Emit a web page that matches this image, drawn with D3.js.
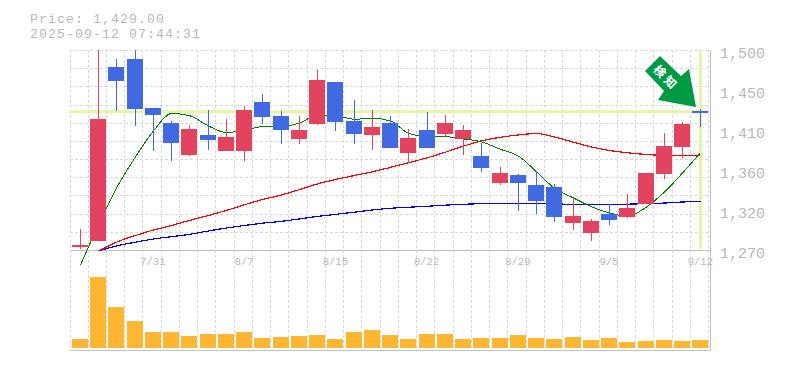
<!DOCTYPE html>
<html>
<head>
<meta charset="utf-8">
<style>
	html, body { margin: 0; padding: 0; background: #fff; }
	svg { display: block; }
	text { font-family: "Liberation Mono", monospace; fill: #b8b8b8; }
</style>
<script src="https://cdn.jsdelivr.net/npm/d3@7"></script>
</head>
<body>
<script>
var dates = ["7/25","7/28","7/29","7/30","7/31","8/1","8/4","8/5","8/6","8/7","8/8","8/12","8/13","8/14","8/15",
	"8/18","8/19","8/20","8/21","8/22","8/25","8/26","8/27","8/28","8/29","9/1","9/2","9/3","9/4","9/5",
	"9/8","9/9","9/10","9/11","9/12"];
var dateTicks = ["7/31","8/7","8/15","8/22","8/29","9/5","9/12"];
var priceTicks = [1500,1454,1408,1362,1316,1270];

var opens  = [1276,1280,1480,1490,1433,1416,1379,1402,1384,1384,1440,1424,1398,1415,1463,1418,1402,1416,1382,1408,1403,1398,1378,1347,1356,1345,1342,1301,1290,1311,1308,1323,1357,1388,1430];
var highs  = [1294,1500,1490,1500,1433,1418,1414,1431,1421,1436,1449,1430,1424,1477,1463,1442,1431,1424,1409,1429,1425,1414,1393,1365,1357,1361,1346,1330,1306,1323,1334,1359,1405,1417,1432];
var lows   = [1271,1280,1430,1413,1384,1372,1378,1385,1384,1372,1415,1392,1392,1414,1407,1392,1385,1387,1370,1387,1400,1379,1360,1345,1315,1311,1302,1293,1280,1299,1307,1323,1352,1376,1411];
var closes = [1276,1421,1464,1432,1425,1393,1409,1396,1400,1431,1423,1408,1408,1465,1417,1403,1411,1387,1399,1387,1416,1408,1364,1359,1347,1326,1308,1309,1303,1304,1318,1359,1390,1415,1429];
var volumes = [9,71,41,27,16,16,12,14,14,16,10,11,12,13,9,16,18,13,9,14,14,9,10,10,13,10,9,11,8,10,6,7,8,7,8];

var maShort = [1252.8,1298.8,1341.3,1377,1406.9,1427,1424.5,1412.6,1405,1408,1411.8,1412,1416,1425,1424.7,1420.3,1421.5,1418.4,1404.2,1400.3,1400.3,1397.7,1394.5,1385.8,1378,1360,1341,1329.8,1319.8,1312.5,1309,1319.5,1336.7,1358.5,1382];
var maMid = [null,1268.9,1279,1286.7,1293,1298.2,1304,1309.7,1315.5,1322,1328,1333.3,1339.5,1346,1351,1355.7,1360,1365,1370.4,1376.1,1382.5,1389.5,1395.5,1399.6,1402.3,1404,1400,1394,1388.5,1384.4,1381.9,1379.8,1378.9,1378.8,1378.9];
var maLong = [null,1268.9,1274.6,1279,1282.7,1285.3,1288,1291.9,1295.3,1298.2,1300.8,1303,1305.7,1308.6,1311,1313.5,1316,1318,1319.2,1320.3,1321.6,1322.6,1323.3,1323.7,1323.7,1323.7,1323,1322.6,1322.6,1322.6,1322.7,1323.4,1324,1325.2,1326];

var lastPrice = 1429;
var w = 785, h = 370;
var left = 70.75, right = 709.5;
var top_ = 50, mid = 250, volBase = 348, bottom = 350;
var barW = 16;

var svg = d3.select("body").append("svg").attr("width", w).attr("height", h);

var x = d3.scaleBand().domain(d3.range(dates.length)).range([left, right]);
var y = d3.scaleLinear().domain([1270, 1500]).range([mid, top_]);
var yVol = d3.scaleLinear().domain([0, d3.max(volumes)]).range([volBase, 277]);
var cx = i => Math.round(x(i) + x.bandwidth() / 2 + 0.1);

// title
svg.append("text").text("Price: 1,429.00").attr("x", 30).attr("y", 23)
	.attr("font-size", "13.2px").attr("letter-spacing", "1.08px");
svg.append("text").text("2025-09-12 07:44:31").attr("x", 30).attr("y", 38)
	.attr("font-size", "13.2px").attr("letter-spacing", "1.08px");

// grid
var gridV = d3.range(dates.length + 1).map(i => Math.max(70, Math.floor(left + i * x.step() - 0.8)) + 0.5);
svg.selectAll("line.gridv").data(gridV).enter().append("line")
	.attr("class", "gridv")
	.attr("x1", d => d).attr("x2", d => d)
	.attr("y1", top_).attr("y2", bottom)
	.attr("stroke", "#d8d8d8").attr("stroke-dasharray", "3,2");

var gridH = d3.range(0, 12).map(i => 1270 + i * 230 / 11);
svg.selectAll("line.gridh").data(gridH).enter().append("line")
	.attr("class", "gridh")
	.attr("x1", 70).attr("x2", right)
	.attr("y1", d => Math.round(y(d)) + 0.5).attr("y2", d => Math.round(y(d)) + 0.5)
	.attr("stroke", "#d8d8d8").attr("stroke-dasharray", "3,2");

// last price cross
var lastX = cx(dates.length - 1);
svg.append("line")
	.attr("x1", 70).attr("x2", lastX + 2)
	.attr("y1", y(lastPrice)).attr("y2", y(lastPrice))
	.attr("stroke", "#e4f6a6").attr("stroke-width", 3);
svg.append("line")
	.attr("x1", lastX + 0.5).attr("x2", lastX + 0.5)
	.attr("y1", top_).attr("y2", mid - 1)
	.attr("stroke", "#e4f6a6").attr("stroke-width", 3);

// axes frame
svg.append("path")
	.attr("d", "M70," + (mid + 0.5) + "H710.5M70," + (bottom + 0.5) + "H710.5M710.5," + top_ + "V" + (bottom + 1))
	.attr("fill", "none").attr("stroke", "#c0c0c0");

// moving averages
function maLine(values, color, width) {
	var line = d3.line()
		.defined(d => d != null)
		.x((d, i) => cx(i) + 0.5)
		.y(d => y(d))
		.curve(d3.curveMonotoneX);
	svg.append("path").datum(values)
		.attr("d", line)
		.attr("fill", "none")
		.attr("stroke", color)
		.attr("stroke-width", width)
		.attr("shape-rendering", "crispEdges");
}
maLine(maLong, "#0000ff", 1.2);
maLine(maMid, "#ff0000", 1.2);
maLine(maShort, "#008000", 1);

// candles
var candles = dates.map((d, i) => ({i: i, o: opens[i], h: highs[i], l: lows[i], c: closes[i]}));
var col = d => d.c >= d.o ? "#e2435f" : "#4169e1";

svg.selectAll("rect.wick").data(candles).enter().append("rect")
	.attr("class", "wick")
	.attr("x", d => cx(d.i))
	.attr("y", d => y(d.h))
	.attr("width", 1)
	.attr("height", d => y(d.l) - y(d.h))
	.attr("fill", col)
	.attr("shape-rendering", "crispEdges");

svg.selectAll("rect.body").data(candles).enter().append("rect")
	.attr("class", "body")
	.attr("x", d => cx(d.i) - barW / 2)
	.attr("y", d => y(Math.max(d.o, d.c)))
	.attr("width", barW)
	.attr("height", d => Math.max(2, Math.abs(y(d.o) - y(d.c))))
	.attr("fill", col)
	.attr("shape-rendering", "crispEdges");

// volume
svg.selectAll("rect.vol").data(volumes).enter().append("rect")
	.attr("class", "vol")
	.attr("x", (d, i) => cx(i) - barW / 2)
	.attr("y", d => yVol(d))
	.attr("width", barW)
	.attr("height", d => volBase - yVol(d))
	.attr("fill", "#ffb733")
	.attr("shape-rendering", "crispEdges");

// axes
var xAxis = d3.axisBottom(x)
	.tickValues(dateTicks.map(d => dates.indexOf(d)))
	.tickFormat(i => dates[i])
	.tickSize(0).tickPadding(8);
var gx = svg.append("g").attr("transform", "translate(0," + mid + ")").call(xAxis);
gx.select(".domain").remove();
gx.attr("font-family", null);
gx.selectAll("text").attr("font-size", "10.5px");

var yAxis = d3.axisRight(y)
	.tickValues(priceTicks)
	.tickFormat(d => d3.format(",")(Math.round(d / 10) * 10))
	.tickSize(0).tickPadding(10);
var gy = svg.append("g").attr("transform", "translate(710,0)").call(yAxis);
gy.select(".domain").remove();
gy.attr("font-family", null);
gy.selectAll("text").attr("font-size", "15px").attr("y", 3);

// signal arrow
svg.append("polygon")
	.attr("points", "660,56 645,71 664,91 658,100 696,107 689,69 681,76")
	.attr("fill", "#009944");
svg.append("text")
	.text("検知")
	.attr("transform", "translate(666,78) rotate(45)")
	.attr("text-anchor", "middle")
	.attr("dy", "0.35em")
	.attr("font-size", "12px")
	.attr("font-weight", "bold")
	.attr("letter-spacing", "3px")
	.style("font-family", "Noto Sans CJK JP")
	.style("fill", "#fff");
</script>
</body>
</html>
